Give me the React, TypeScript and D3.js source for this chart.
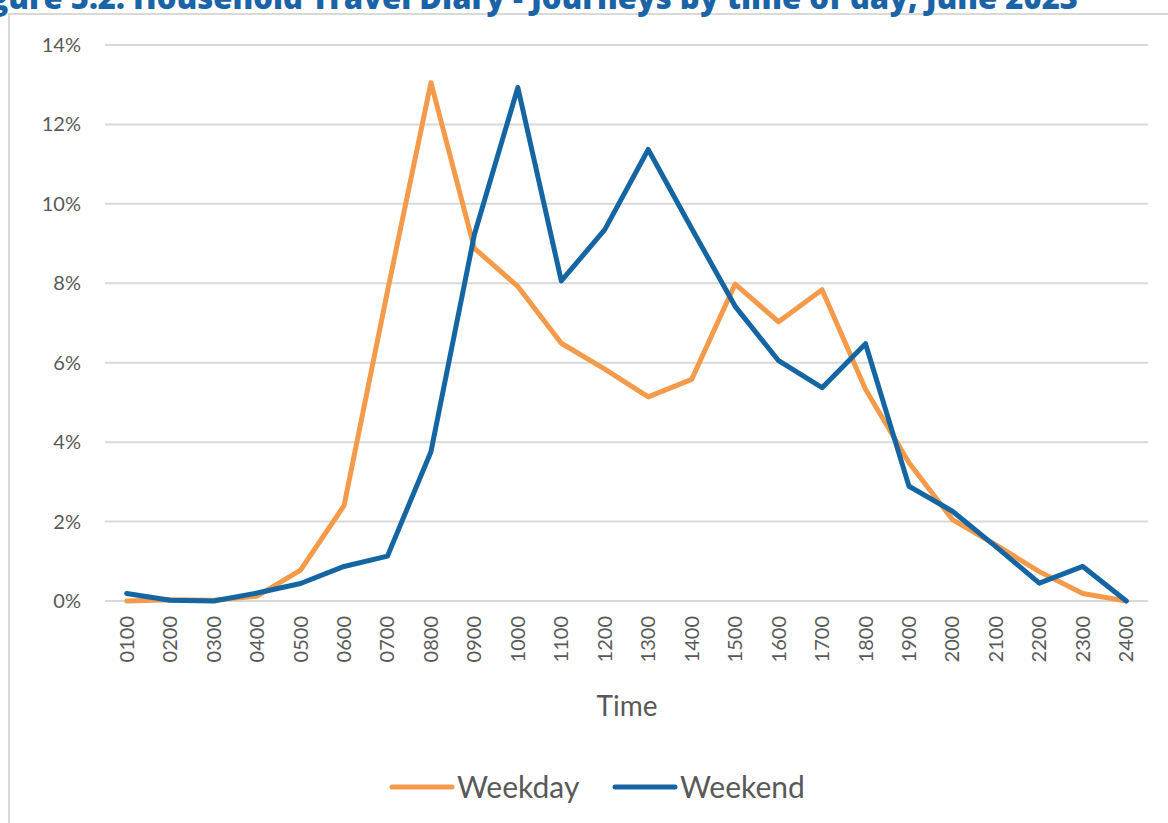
import { useEffect, useRef } from 'react';
import * as d3 from 'd3';

const hours = [
  '0100', '0200', '0300', '0400', '0500', '0600', '0700', '0800', '0900', '1000', '1100', '1200',
  '1300', '1400', '1500', '1600', '1700', '1800', '1900', '2000', '2100', '2200', '2300', '2400',
];

const weekday = [
  0.0, 0.03, 0.02, 0.12, 0.78, 2.4, 7.8, 13.05, 8.88, 7.92, 6.49, 5.84,
  5.14, 5.58, 7.98, 7.03, 7.84, 5.33, 3.48, 2.05, 1.41, 0.74, 0.19, 0.0,
];

const weekend = [
  0.19, 0.02, 0.0, 0.2, 0.44, 0.87, 1.13, 3.76, 9.23, 12.93, 8.06, 9.35,
  11.37, 9.38, 7.42, 6.05, 5.37, 6.48, 2.89, 2.26, 1.37, 0.45, 0.87, 0.0,
];

const yTicks = [0, 2, 4, 6, 8, 10, 12, 14];

const seriesNames = ['Weekday', 'Weekend'];
const seriesColors = ['#F49A4B', '#1565A3'];

const W = 1168;
const H = 823;
const FONT = 'Lato, "Noto Sans", sans-serif';

export default function App() {
  const svgRef = useRef<SVGSVGElement>(null);

  useEffect(() => {
    if (!svgRef.current) return;
    const svg = d3.select(svgRef.current);
    svg.selectAll('*').remove();

    svg.append('rect').attr('width', W).attr('height', H).attr('fill', '#fff');

    // chart frame (top + left edges visible)
    svg
      .append('path')
      .attr('d', `M9,${H} L9,14 L${W},14`)
      .attr('fill', 'none')
      .attr('stroke', '#d9d9d9')
      .attr('stroke-width', 2);

    // title, cut off at top-left like the source
    svg
      .append('text')
      .attr('x', 1078)
      .attr('y', 9)
      .attr('text-anchor', 'end')
      .attr('font-family', '"Open Sans", sans-serif')
      .attr('font-weight', 800)
      .attr('font-size', 31)
      .attr('fill', '#1A63A6')
      .text('Figure 5.2: Household Travel Diary - Journeys by time of day, June 2023');

    const x = d3.scaleBand<string>().domain(hours).range([105, 1148]);
    const y = d3.scaleLinear().domain([0, 14]).range([601, 45]);
    const cx = (h: string) => (x(h) ?? 0) + x.bandwidth() / 2;

    // gridlines
    svg
      .append('g')
      .selectAll('line')
      .data(yTicks)
      .enter()
      .append('line')
      .attr('x1', 105)
      .attr('x2', 1148)
      .attr('y1', (d) => y(d))
      .attr('y2', (d) => y(d))
      .attr('stroke', '#d9d9d9')
      .attr('stroke-width', 2);

    // y labels
    svg
      .append('g')
      .selectAll('text')
      .data(yTicks)
      .enter()
      .append('text')
      .attr('x', 81)
      .attr('y', (d) => y(d))
      .attr('dy', '0.35em')
      .attr('text-anchor', 'end')
      .attr('font-family', FONT)
      .attr('font-size', 20)
      .attr('fill', '#595959')
      .text((d) => `${d}%`);

    // x labels, rotated
    svg
      .append('g')
      .selectAll('text')
      .data(hours)
      .enter()
      .append('text')
      .attr('transform', (d) => `translate(${cx(d)},616) rotate(-90)`)
      .attr('dy', '0.35em')
      .attr('text-anchor', 'end')
      .attr('font-family', FONT)
      .attr('font-size', 20)
      .attr('fill', '#595959')
      .text((d) => d);

    svg
      .append('text')
      .attr('x', 627)
      .attr('y', 716)
      .attr('text-anchor', 'middle')
      .attr('font-family', FONT)
      .attr('font-size', 28)
      .attr('fill', '#595959')
      .text('Time');

    // lines
    const line = d3
      .line<number>()
      .x((_, i) => cx(hours[i]))
      .y((d) => y(d));

    [weekday, weekend].forEach((vals, i) => {
      svg
        .append('path')
        .datum(vals)
        .attr('d', line)
        .attr('fill', 'none')
        .attr('stroke', seriesColors[i])
        .attr('stroke-width', 5)
        .attr('stroke-linejoin', 'round')
        .attr('stroke-linecap', 'round');
    });

    // legend
    const legendX = [392, 615];
    seriesNames.forEach((name, i) => {
      const g = svg.append('g').attr('transform', `translate(${legendX[i]},787)`);
      g.append('line')
        .attr('x1', 0)
        .attr('x2', 60)
        .attr('stroke', seriesColors[i])
        .attr('stroke-width', 5)
        .attr('stroke-linecap', 'round');
      g.append('text')
        .attr('x', 65)
        .attr('dy', '0.35em')
        .attr('font-family', FONT)
        .attr('font-size', 30)
        .attr('fill', '#595959')
        .text(name);
    });
  }, []);

  return (
    <svg
      ref={svgRef}
      width={W}
      height={H}
      style={{ position: 'absolute', left: 0, top: 0, display: 'block' }}
    />
  );
}
